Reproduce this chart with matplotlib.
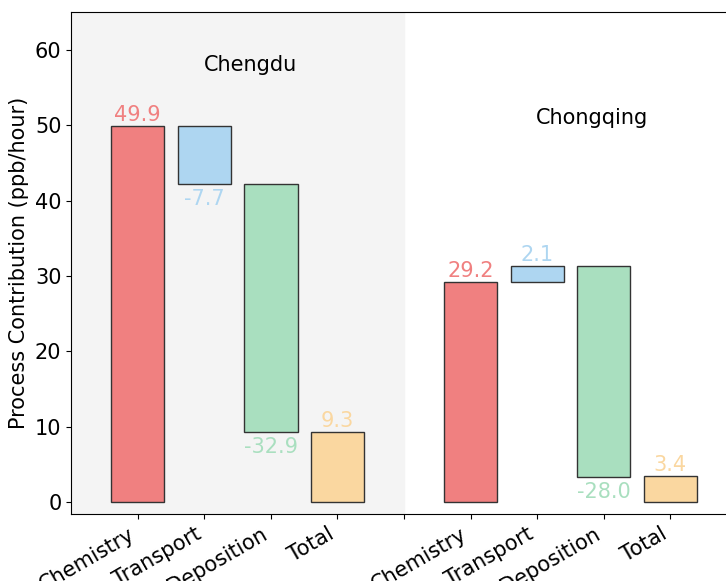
import numpy as np
import matplotlib.pyplot as plt

# process contributions (ppb/hour) for each city
processes = ['Chemistry', 'Transport', 'Deposition']
chengdu_vals = [49.9, -7.7, -32.9]
chongqing_vals = [29.2, 2.1, -28.0]
totals = [9.3, 3.4]
cities = ['Chengdu', 'Chongqing']
tick_labels = ['Chemistry', 'Transport', 'Deposition', 'Total', '',
               'Chemistry', 'Transport', 'Deposition', 'Total']

colors = ['#F08080', '#AED6F1', '#A9DFBF', '#FAD7A0']
FS = 15

fig = plt.figure(figsize=(7.26, 5.81), dpi=100)
ax = fig.add_axes([0.098, 0.115, 0.917, 0.864])

ax.axvspan(-1, 4, color='#f4f4f4', zorder=0)


def waterfall(ax, vals, total, x0):
    running = 0.0
    for i, v in enumerate(vals):
        bottom = running if v >= 0 else running + v
        ax.bar(x0 + i, abs(v), bottom=bottom, width=0.8, color=colors[i],
               edgecolor='#333333', linewidth=1.0, zorder=2)
        if v >= 0:
            ax.text(x0 + i, running + v + 0.2, f'{v:.1f}', ha='center',
                    va='bottom', fontsize=FS, color=colors[i])
        else:
            ax.text(x0 + i, running + v - 0.6, f'{v:.1f}', ha='center',
                    va='top', fontsize=FS, color=colors[i])
        running += v
    ax.bar(x0 + 3, total, width=0.8, color=colors[3], edgecolor='#333333',
           linewidth=1.0, zorder=2)
    ax.text(x0 + 3, total + 0.2, f'{total:.1f}', ha='center', va='bottom',
            fontsize=FS, color=colors[3])


waterfall(ax, chengdu_vals, totals[0], 0)
waterfall(ax, chongqing_vals, totals[1], 5)

ax.text(1.7, 58, cities[0], ha='center', va='center', fontsize=FS)
ax.text(6.83, 51, cities[1], ha='center', va='center', fontsize=FS)

ax.set_xticks(np.arange(len(tick_labels)))
ax.set_xticklabels(tick_labels, rotation=30, ha='right', fontsize=FS)
ax.set_xlim(-1, 9)
ax.set_ylim(-1.6, 65)
ax.set_yticks(np.arange(0, 61, 10))
ax.tick_params(axis='y', labelsize=FS)
ax.set_ylabel('Process Contribution (ppb/hour)', fontsize=FS)
ax.spines['right'].set_visible(False)

fig.savefig('out.png', dpi=100)
